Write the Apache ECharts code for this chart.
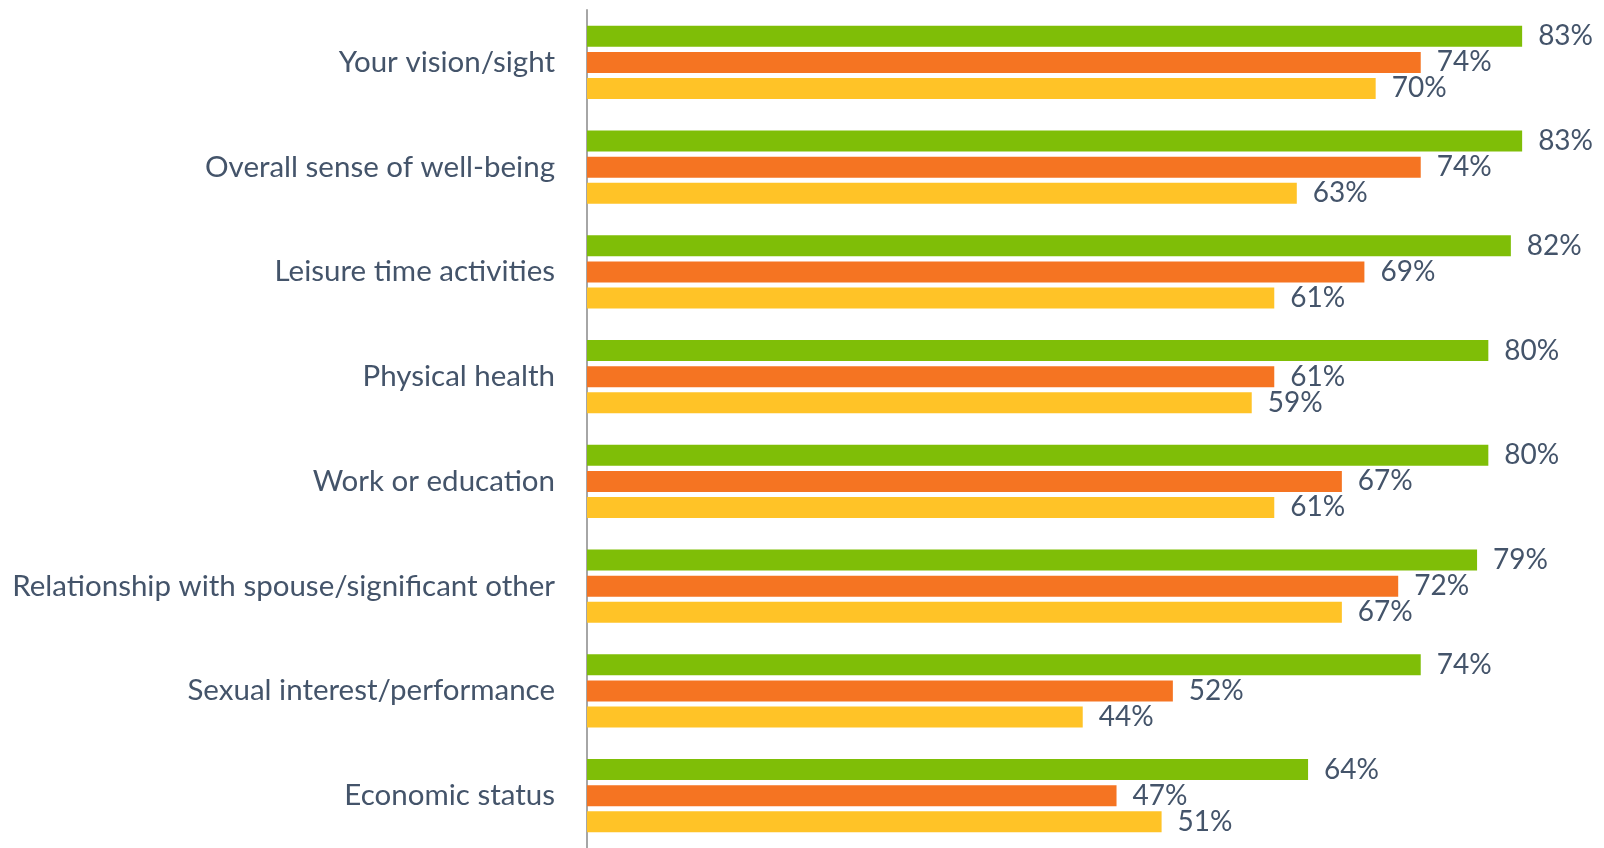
<!DOCTYPE html>
<html>
<head>
<meta charset="utf-8">
<script src="https://cdn.jsdelivr.net/npm/echarts@6/dist/echarts.min.js"></script>
<style>html,body{margin:0;padding:0;background:#fff;}#c{width:1604px;height:848px;}</style>
</head>
<body>
<div id="c"></div>
<script>
const categories = [
  "Your vision/sight",
  "Overall sense of well-being",
  "Leisure time activities",
  "Physical health",
  "Work or education",
  "Relationship with spouse/significant other",
  "Sexual interest/performance",
  "Economic status"
];
const greenValues = [83, 83, 82, 80, 80, 79, 74, 64];
const orangeValues = [74, 74, 69, 61, 67, 72, 52, 47];
const yellowValues = [70, 63, 61, 59, 61, 67, 44, 51];

const textColor = '#44546A';
const font = 'Lato';

function mk(name, data, color) {
  return {
    name: name, type: 'bar', data: data, barWidth: 21, barGap: '24%', barCategoryGap: '30%',
    itemStyle: { color: color },
    label: { show: true, position: 'right', distance: 16, formatter: '{c}%', color: textColor, fontFamily: font, fontSize: 28 },
    silent: true
  };
}

const chart = echarts.init(document.getElementById('c'));
chart.setOption({
  animation: false,
  grid: { left: 587, right: 3, top: 10, height: 840, containLabel: false },
  xAxis: { type: 'value', min: 0, max: 90, show: false, splitLine: { show: false } },
  yAxis: {
    type: 'category', data: categories, inverse: true,
    axisLine: { show: true, lineStyle: { color: '#A6A6A6', width: 2 } },
    axisTick: { show: false },
    axisLabel: { color: textColor, fontFamily: font, fontSize: 29.5, margin: 32 }
  },
  series: [
    mk('Green', greenValues, '#7FBE07'),
    mk('Orange', orangeValues, '#F57422'),
    mk('Yellow', yellowValues, '#FFC327')
  ]
});
</script>
</body>
</html>
